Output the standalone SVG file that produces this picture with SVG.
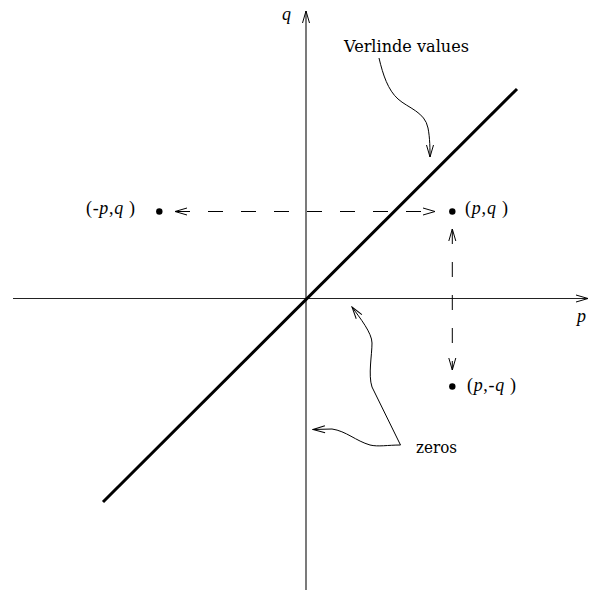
<svg xmlns="http://www.w3.org/2000/svg" width="589" height="590" viewBox="0 0 589 590">
<defs>
<style>
.ax{stroke:#222;stroke-width:1.2;fill:none}
.dash{stroke:#000;stroke-width:1;fill:none;stroke-dasharray:15 18}
.cv{stroke:#000;stroke-width:1;fill:none}
.lbl{font-family:"Liberation Serif",serif;font-size:18px;fill:#000}
.it{font-style:italic}
.word{font-family:"DejaVu Serif",serif;font-size:16px;fill:#000}
</style>
<marker id="ah" viewBox="-13 -5 14 10" refX="0" refY="0" markerWidth="14" markerHeight="10" markerUnits="userSpaceOnUse" orient="auto">
<path d="M-12,-3.5 L0,0 L-12,3.5" fill="none" stroke="#000" stroke-width="1"/>
</marker>
<marker id="ahs" viewBox="-13 -5 14 10" refX="0" refY="0" markerWidth="14" markerHeight="10" markerUnits="userSpaceOnUse" orient="auto-start-reverse">
<path d="M-12,-3.5 L0,0 L-12,3.5" fill="none" stroke="#000" stroke-width="1"/>
</marker>
</defs>
<rect width="589" height="590" fill="#fff"/>
<g id="axes">
<line class="ax" x1="13" y1="298.5" x2="588" y2="298.5" marker-end="url(#ah)"/>
<line class="ax" x1="306" y1="590" x2="306" y2="11" marker-end="url(#ah)"/>
<text class="lbl it" x="282" y="20">q</text>
<text class="lbl it" x="577" y="322">p</text>
</g>
<g id="diagonal">
<line x1="103" y1="502" x2="517" y2="89" stroke="#000" stroke-width="3"/>
</g>
<g id="pq">
<circle cx="452.3" cy="211.5" r="3.2" fill="#000"/>
<text class="lbl" x="465" y="214" textLength="43" lengthAdjust="spacing">(<tspan class="it">p</tspan>,<tspan class="it">q</tspan> )</text>
</g>
<g id="mpq">
<circle cx="159.3" cy="211.5" r="3.2" fill="#000"/>
<text class="lbl" x="86" y="214" textLength="49" lengthAdjust="spacing">(-<tspan class="it">p</tspan>,<tspan class="it">q</tspan> )</text>
</g>
<g id="pmq">
<circle cx="452.3" cy="386.5" r="3.2" fill="#000"/>
<text class="lbl" x="467" y="391" textLength="49" lengthAdjust="spacing">(<tspan class="it">p</tspan>,-<tspan class="it">q</tspan> )</text>
</g>
<g id="verlinde">
<text class="word" x="344" y="52" textLength="125" lengthAdjust="spacingAndGlyphs">Verlinde values</text>
</g>
<g id="zeros">
<text class="word" x="416" y="453" textLength="41" lengthAdjust="spacingAndGlyphs">zeros</text>
</g>
<g id="connectors">
<line class="dash" x1="175" y1="211.5" x2="435" y2="211.5" marker-start="url(#ahs)" marker-end="url(#ah)"/>
<line class="dash" x1="452.3" y1="229" x2="452.3" y2="370" marker-start="url(#ahs)" marker-end="url(#ah)"/>
<path class="cv" d="M379,58 C383,75 388,90 398,99 C408,108 425,112 428,128 C430,138 430,150 430,157" marker-end="url(#ah)"/>
<path class="cv" d="M400.5,445 L372,387 C368,375 372,355 372,343 C372,333 360,318 352,307" marker-end="url(#ah)"/>
<path class="cv" d="M400.5,445 C388,445 378,447 370,445 C356,441 346,431 332,429 L313,429.5" marker-end="url(#ah)"/>
</g>
</svg>
